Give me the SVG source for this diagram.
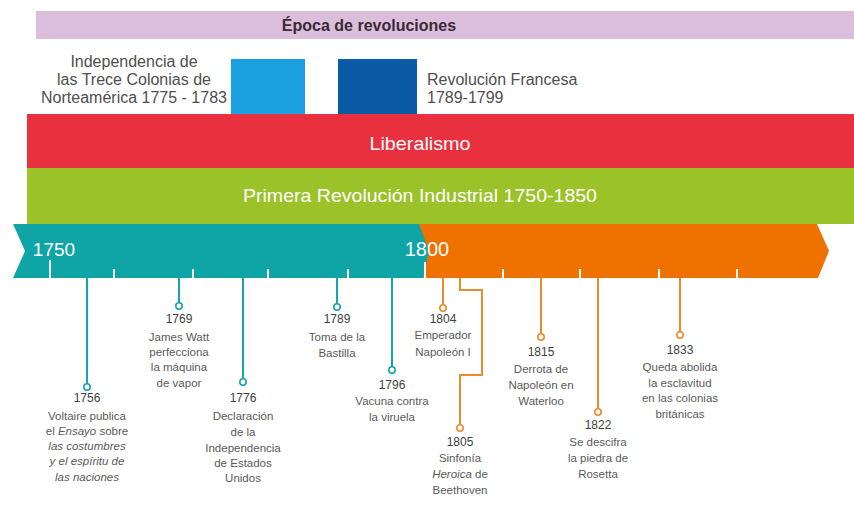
<svg xmlns="http://www.w3.org/2000/svg" width="854" height="521" viewBox="0 0 854 521">
<style>
.band{font-family:"Liberation Sans",Arial,sans-serif;fill:#fff;text-anchor:middle}
.yr{font-family:"Liberation Sans",Arial,sans-serif;font-size:12px;fill:#3e3e3e;text-anchor:middle}
.ds{font-family:"Liberation Sans",Arial,sans-serif;font-size:11.5px;fill:#5a5a5a;text-anchor:middle}
.lg{font-family:"Liberation Sans",Arial,sans-serif;font-size:16px;fill:#4f4f4f}
.tc{stroke:#13a5a8;stroke-width:2;fill:none}
.oc{stroke:#ef8a2a;stroke-width:2;fill:none}
.tk{stroke:#fff;stroke-width:2}
.dt{stroke:#13a5a8;stroke-width:1.6;fill:#fff}
.do{stroke:#ef8a2a;stroke-width:1.6;fill:#fff}
</style>
<rect width="854" height="521" fill="#fff"/>
<g id="epoca">
<rect x="36" y="11" width="818" height="28" fill="#dbbedb"/>
<text x="369" y="31" font-family="Liberation Sans,Arial,sans-serif" font-size="16" font-weight="bold" fill="#3a2a38" text-anchor="middle">Época de revoluciones</text>
</g>
<g id="independencia">
<rect x="231" y="59" width="74" height="56" fill="#1ba0e2"/>
<text class="lg" text-anchor="middle"><tspan x="134" y="67">Independencia de</tspan><tspan x="134" y="85">las Trece Colonias de</tspan><tspan x="134" y="103">Norteamérica 1775 - 1783</tspan></text>
</g>
<g id="revolucion-francesa">
<rect x="338" y="59" width="79" height="56" fill="#0b5aa6"/>
<text class="lg"><tspan x="427" y="85">Revolución Francesa</tspan><tspan x="427" y="103">1789-1799</tspan></text>
</g>
<g id="liberalismo">
<rect x="27" y="114" width="827" height="54" fill="#e8303e"/>
<text class="band" x="420" y="150" font-size="19" textLength="101" lengthAdjust="spacingAndGlyphs">Liberalismo</text>
</g>
<g id="revolucion-industrial">
<rect x="27" y="168" width="827" height="56" fill="#9cc22a"/>
<text class="band" x="420" y="202" font-size="19" textLength="354" lengthAdjust="spacingAndGlyphs">Primera Revolución Industrial 1750-1850</text>
</g>
<g id="timeline">
<polygon points="415,224 817,224 829,251 818,278 415,278" fill="#ef7100"/>
<polygon points="13,224 419,224 429,251 423,278 13,278 25,251" fill="#0fa4a6"/>
<text class="band" x="54" y="256" font-size="19">1750</text>
<text class="band" x="427" y="256" font-size="20">1800</text>
<g class="tk">
<line x1="50" y1="260" x2="50" y2="278"/>
<line x1="114" y1="269" x2="114" y2="278"/>
<line x1="193" y1="269" x2="193" y2="278"/>
<line x1="268" y1="269" x2="268" y2="278"/>
<line x1="348" y1="269" x2="348" y2="278"/>
<line x1="425" y1="262" x2="425" y2="278"/>
<line x1="503" y1="269" x2="503" y2="278"/>
<line x1="580" y1="269" x2="580" y2="278"/>
<line x1="659" y1="269" x2="659" y2="278"/>
<line x1="737" y1="269" x2="737" y2="278"/>
</g>
</g>
<g id="connectors">
<line class="tc" x1="87" y1="278" x2="87" y2="384"/>
<line class="tc" x1="179" y1="278" x2="179" y2="303"/>
<line class="tc" x1="243" y1="278" x2="243" y2="379"/>
<line class="tc" x1="337" y1="278" x2="337" y2="304"/>
<line class="tc" x1="392" y1="278" x2="392" y2="367"/>
<line class="oc" x1="443" y1="278" x2="443" y2="305"/>
<polyline class="oc" points="460,278 460,290 482,290 482,375 460,375 460,425"/>
<line class="oc" x1="541" y1="278" x2="541" y2="334"/>
<line class="oc" x1="598" y1="278" x2="598" y2="409"/>
<line class="oc" x1="680" y1="278" x2="680" y2="332"/>
<circle class="dt" cx="87" cy="387" r="3.2"/>
<circle class="dt" cx="179" cy="306" r="3.2"/>
<circle class="dt" cx="243" cy="382" r="3.2"/>
<circle class="dt" cx="337" cy="307" r="3.2"/>
<circle class="dt" cx="392" cy="370" r="3.2"/>
<circle class="do" cx="443" cy="308" r="3.2"/>
<circle class="do" cx="460" cy="428" r="3.2"/>
<circle class="do" cx="541" cy="337" r="3.2"/>
<circle class="do" cx="598" cy="412" r="3.2"/>
<circle class="do" cx="680" cy="335" r="3.2"/>
</g>
<g id="e1756">
<text class="yr" x="87" y="402">1756</text>
<text class="ds"><tspan x="87" y="420">Voltaire publica</tspan><tspan x="87" y="435">el <tspan font-style="italic">Ensayo</tspan> sobre</tspan><tspan x="87" y="450" font-style="italic">las costumbres</tspan><tspan x="87" y="465" font-style="italic">y el espíritu de</tspan><tspan x="87" y="481" font-style="italic">las naciones</tspan></text>
</g>
<g id="e1769">
<text class="yr" x="179" y="323">1769</text>
<text class="ds"><tspan x="179" y="341">James Watt</tspan><tspan x="179" y="356">perfecciona</tspan><tspan x="179" y="371">la máquina</tspan><tspan x="179" y="387">de vapor</tspan></text>
</g>
<g id="e1776">
<text class="yr" x="243" y="402">1776</text>
<text class="ds"><tspan x="243" y="420">Declaración</tspan><tspan x="243" y="436">de la</tspan><tspan x="243" y="452">Independencia</tspan><tspan x="243" y="467">de Estados</tspan><tspan x="243" y="482">Unidos</tspan></text>
</g>
<g id="e1789">
<text class="yr" x="337" y="323">1789</text>
<text class="ds"><tspan x="337" y="341">Toma de la</tspan><tspan x="337" y="357">Bastilla</tspan></text>
</g>
<g id="e1796">
<text class="yr" x="392" y="389">1796</text>
<text class="ds"><tspan x="392" y="405">Vacuna contra</tspan><tspan x="392" y="421">la viruela</tspan></text>
</g>
<g id="e1804">
<text class="yr" x="443" y="323">1804</text>
<text class="ds"><tspan x="443" y="339">Emperador</tspan><tspan x="443" y="356">Napoleón I</tspan></text>
</g>
<g id="e1805">
<text class="yr" x="460" y="446">1805</text>
<text class="ds"><tspan x="460" y="462">Sinfonía</tspan><tspan x="460" y="478"><tspan font-style="italic">Heroica</tspan> de</tspan><tspan x="460" y="494">Beethoven</tspan></text>
</g>
<g id="e1815">
<text class="yr" x="541" y="356">1815</text>
<text class="ds"><tspan x="541" y="373">Derrota de</tspan><tspan x="541" y="389">Napoleón en</tspan><tspan x="541" y="405">Waterloo</tspan></text>
</g>
<g id="e1822">
<text class="yr" x="598" y="429">1822</text>
<text class="ds"><tspan x="598" y="446">Se descifra</tspan><tspan x="598" y="462">la piedra de</tspan><tspan x="598" y="478">Rosetta</tspan></text>
</g>
<g id="e1833">
<text class="yr" x="680" y="354">1833</text>
<text class="ds"><tspan x="680" y="371">Queda abolida</tspan><tspan x="680" y="387">la esclavitud</tspan><tspan x="680" y="402">en las colonias</tspan><tspan x="680" y="418">británicas</tspan></text>
</g>
</svg>
